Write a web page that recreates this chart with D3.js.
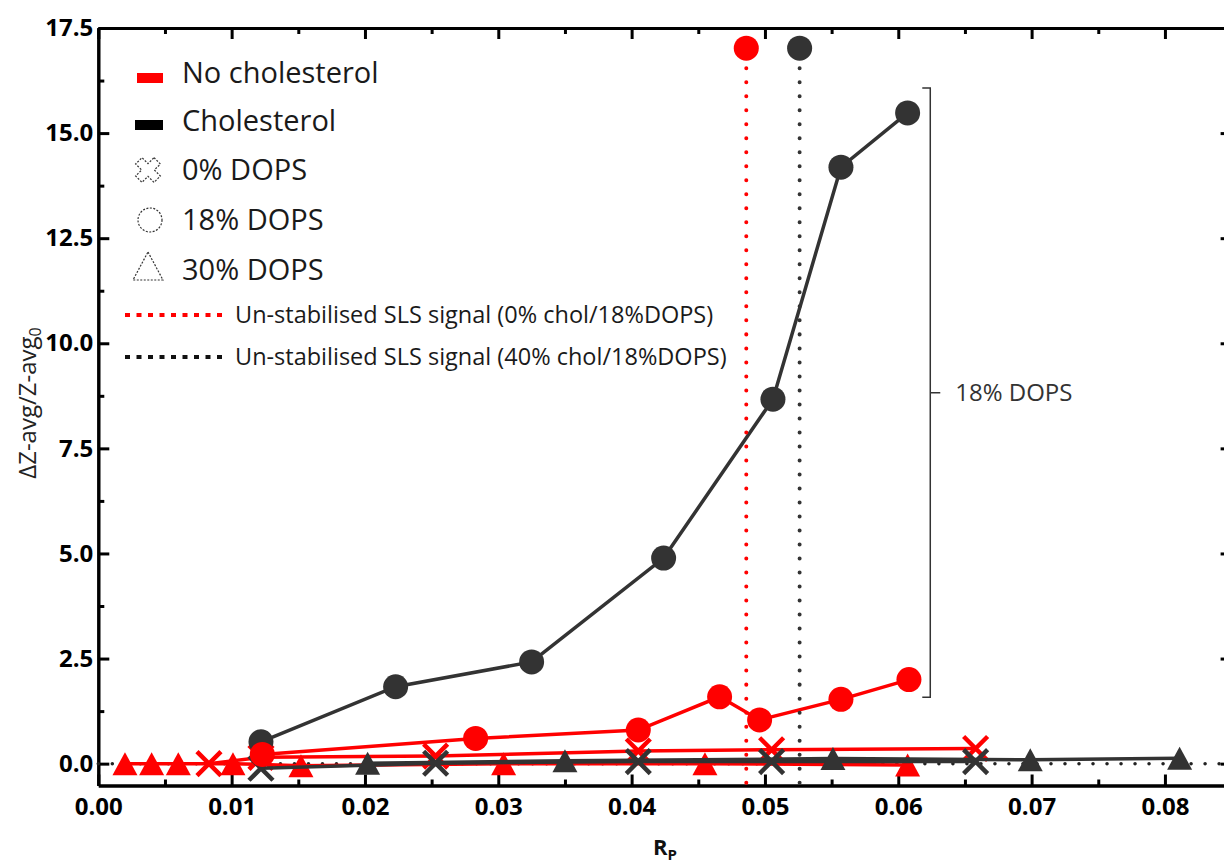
<!DOCTYPE html>
<html>
<head>
<meta charset="utf-8">
<script src="https://cdn.jsdelivr.net/npm/d3@7"></script>
<style>
  body { margin: 0; background: #fff; }
  svg text { font-family: "Open Sans", sans-serif; }
</style>
</head>
<body>
<svg id="chart"></svg>
<script>
//======= data =======//
let cholCircleX = [0.0122, 0.0223, 0.0325, 0.0424, 0.0506, 0.0557, 0.0607];
let cholCircleY = [0.52, 1.83, 2.42, 4.89, 8.67, 14.19, 15.48];

let noCholCircleX = [0.0123, 0.0283, 0.0405, 0.0466, 0.0496, 0.0557, 0.0608];
let noCholCircleY = [0.22, 0.60, 0.80, 1.59, 1.04, 1.53, 2.00];

let cholCrossX = [0.0122, 0.0253, 0.0405, 0.0505, 0.0658];
let cholCrossY = [-0.11, 0.01, 0.05, 0.05, 0.05];

let noCholCrossX = [0.0083, 0.0122, 0.0253, 0.0405, 0.0505, 0.0658];
let noCholCrossY = [0.00, 0.15, 0.18, 0.30, 0.33, 0.36];

let cholTriX = [0.0202, 0.0350, 0.0551, 0.0699, 0.0811];
let cholTriY = [0.01, 0.07, 0.12, 0.09, 0.13];

let noCholTriX = [0.0020, 0.0040, 0.0060, 0.0101, 0.0152, 0.0304, 0.0455, 0.0607];
let noCholTriY = [0.00, 0.00, 0.00, 0.00, -0.05, 0.00, 0.00, -0.03];

// un-stabilised SLS signal markers (red = 0% chol, black = 40% chol)
let unstableX = [0.0486, 0.0526];
let unstableY = [17.02, 17.02];

let xTicks = [0, 0.01, 0.02, 0.03, 0.04, 0.05, 0.06, 0.07, 0.08];
let xMinorTicks = [0.005, 0.015, 0.025, 0.035, 0.045, 0.055, 0.065, 0.075];
let yTicks = [0, 2.5, 5, 7.5, 10, 12.5, 15, 17.5];
let yMinorTicks = [1.25, 3.75, 6.25, 8.75, 11.25, 13.75, 16.25];

let bracketX = 0.0624;
let bracketY = [1.58, 16.07];

let zip = (xs, ys) => xs.map((v, i) => ({ x: v, y: ys[i] }));

//======= setup =======//
let width = 1224;
let height = 863;
let red = '#ff0000';
let dark = '#333333';

let svg = d3.select('#chart')
  .attr('width', width)
  .attr('height', height);

let x = d3.scaleLinear().domain([0, 0.085]).range([98.3, 1231.6]);
let y = d3.scaleLinear().domain([-0.52, 17.5]).range([785.5, 28]);

//======= axes =======//
function styleAxis(g) {
  g.select('.domain').attr('stroke', '#000').attr('stroke-width', 3);
  g.selectAll('.tick line').attr('stroke', '#000').attr('stroke-width', 3);
  g.selectAll('.tick text')
    .attr('fill', '#000')
    .style('font-size', '24px')
    .style('font-weight', 'bold')
    .style('font-family', '"Open Sans", sans-serif');
}

let yBottom = y.range()[0];
let yTop = y.range()[1];
let xLeft = x.range()[0];
let xRight = x.range()[1];

svg.append('g').attr('transform', 'translate(0,' + yBottom + ')')
  .call(d3.axisBottom(x).tickValues(xMinorTicks).tickFormat('').tickSizeInner(-6).tickSizeOuter(0)).call(styleAxis);
svg.append('g').attr('transform', 'translate(0,' + yBottom + ')')
  .call(d3.axisBottom(x).tickValues(xTicks).tickFormat(d3.format('.2f')).tickSizeInner(-11).tickSizeOuter(0).tickPadding(12)).call(styleAxis);

svg.append('g').attr('transform', 'translate(0,' + yTop + ')')
  .call(d3.axisTop(x).tickValues(xMinorTicks).tickFormat('').tickSizeInner(-6).tickSizeOuter(0)).call(styleAxis);
svg.append('g').attr('transform', 'translate(0,' + yTop + ')')
  .call(d3.axisTop(x).tickValues(xTicks).tickFormat('').tickSizeInner(-11).tickSizeOuter(0)).call(styleAxis);

svg.append('g').attr('transform', 'translate(' + xLeft + ',0)')
  .call(d3.axisLeft(y).tickValues(yMinorTicks).tickFormat('').tickSizeInner(-6).tickSizeOuter(0)).call(styleAxis);
svg.append('g').attr('transform', 'translate(' + xLeft + ',0)')
  .call(d3.axisLeft(y).tickValues(yTicks).tickFormat(d3.format('.1f')).tickSizeInner(-11).tickSizeOuter(0).tickPadding(5)).call(styleAxis);

svg.append('g').attr('transform', 'translate(' + xRight + ',0)')
  .call(d3.axisRight(y).tickValues(yMinorTicks).tickFormat('').tickSizeInner(-6).tickSizeOuter(0)).call(styleAxis);
svg.append('g').attr('transform', 'translate(' + xRight + ',0)')
  .call(d3.axisRight(y).tickValues(yTicks).tickFormat('').tickSizeInner(-11).tickSizeOuter(0)).call(styleAxis);

// axis titles
let xTitle = svg.append('text')
  .attr('x', (xLeft + xRight) / 2)
  .attr('y', 855)
  .attr('text-anchor', 'middle')
  .style('font-weight', 'bold')
  .style('font-size', '22px')
  .attr('fill', '#111');
xTitle.append('tspan').text('R');
xTitle.append('tspan').attr('dy', 5).style('font-size', '15px').text('P');

let yTitle = svg.append('text')
  .attr('transform', 'translate(36,' + 403 + ') rotate(-90)')
  .attr('text-anchor', 'middle')
  .attr('fill', '#222')
  .style('font-size', '24px');
yTitle.append('tspan').text('\u0394Z-avg/Z-avg');
yTitle.append('tspan').attr('dy', 5).style('font-size', '16px').text('0');

//======= marks =======//
let line = d3.line().x(d => x(d.x)).y(d => y(d.y));
let crossPath = 'M-12,-12L12,12M-12,12L12,-12';
let triPath = 'M0,-11.5L12.5,11.5L-12.5,11.5Z';

// dotted zero line
svg.append('line')
  .attr('x1', x(0)).attr('x2', xRight)
  .attr('y1', y(0)).attr('y2', y(0))
  .attr('stroke', '#222')
  .attr('stroke-width', 3.5)
  .attr('stroke-linecap', 'round')
  .attr('stroke-dasharray', '0.01 14');

function drawSeries(data, color, kind) {
  let g = svg.append('g');
  g.append('path')
    .datum(data)
    .attr('fill', 'none')
    .attr('stroke', color)
    .attr('stroke-width', 3.5)
    .attr('d', line);
  if (kind === 'circle') {
    g.selectAll('circle').data(data).enter().append('circle')
      .attr('cx', d => x(d.x)).attr('cy', d => y(d.y))
      .attr('r', 12.5)
      .attr('fill', color);
  } else if (kind === 'cross') {
    g.selectAll('.mk').data(data).enter().append('path')
      .attr('transform', d => 'translate(' + x(d.x) + ',' + y(d.y) + ')')
      .attr('d', crossPath)
      .attr('stroke', color)
      .attr('stroke-width', 4.5)
      .attr('fill', 'none');
  } else {
    g.selectAll('.mk').data(data).enter().append('path')
      .attr('transform', d => 'translate(' + x(d.x) + ',' + y(d.y) + ')')
      .attr('d', triPath)
      .attr('fill', color);
  }
}

drawSeries(zip(noCholTriX, noCholTriY), red, 'tri');
drawSeries(zip(noCholCrossX, noCholCrossY), red, 'cross');
drawSeries(zip(cholCrossX, cholCrossY), dark, 'cross');
drawSeries(zip(cholTriX, cholTriY), dark, 'tri');
drawSeries(zip(cholCircleX, cholCircleY), dark, 'circle');
drawSeries(zip(noCholCircleX, noCholCircleY), red, 'circle');

// un-stabilised SLS signal lines
let unstable = zip(unstableX, unstableY);
let unstableColor = [red, dark];
svg.append('g').selectAll('line').data(unstable).enter().append('line')
  .attr('x1', d => x(d.x)).attr('x2', d => x(d.x))
  .attr('y1', d => y(d.y) + 20).attr('y2', yBottom)
  .attr('stroke', (d, i) => unstableColor[i])
  .attr('stroke-width', 4)
  .attr('stroke-linecap', 'round')
  .attr('stroke-dasharray', '0.01 14');
svg.append('g').selectAll('circle').data(unstable).enter().append('circle')
  .attr('cx', d => x(d.x)).attr('cy', d => y(d.y))
  .attr('r', 12.5)
  .attr('fill', (d, i) => unstableColor[i]);

//======= bracket annotation =======//
let bx = x(bracketX);
let by0 = y(bracketY[0]);
let by1 = y(bracketY[1]);
svg.append('path')
  .attr('d', 'M' + (bx - 8) + ',' + by1 + 'H' + bx + 'V' + by0 + 'H' + (bx - 8)
    + 'M' + bx + ',' + ((by0 + by1) / 2) + 'H' + (bx + 10))
  .attr('fill', 'none')
  .attr('stroke', '#333')
  .attr('stroke-width', 1.5);
svg.append('text')
  .attr('x', bx + 25)
  .attr('y', (by0 + by1) / 2 + 8)
  .attr('fill', '#333')
  .style('font-size', '24px')
  .text('18% DOPS');

//======= legend =======//
let legendText = ['No cholesterol', 'Cholesterol', '0% DOPS', '18% DOPS', '30% DOPS'];
let legendBase = [83, 131, 180, 230, 280];
let legend = svg.append('g');

legend.selectAll('text').data(legendText).enter().append('text')
  .attr('x', 182)
  .attr('y', (d, i) => legendBase[i])
  .attr('fill', '#1a1a1a')
  .style('font-size', '29px')
  .text(d => d);

legend.append('rect').attr('x', 137).attr('y', 73).attr('width', 26).attr('height', 10).attr('fill', red);
legend.append('rect').attr('x', 135).attr('y', 120).attr('width', 28).attr('height', 10).attr('fill', '#000');

let w = 4.5, L = 13;
let plusOutline = 'M' + (-w) + ',' + (-L) + 'H' + w + 'V' + (-w) + 'H' + L + 'V' + w + 'H' + w + 'V' + L
  + 'H' + (-w) + 'V' + w + 'H' + (-L) + 'V' + (-w) + 'H' + (-w) + 'Z';
legend.append('path')
  .attr('transform', 'translate(148,170) rotate(45)')
  .attr('d', plusOutline)
  .attr('fill', 'none').attr('stroke', '#333').attr('stroke-width', 1.2).attr('stroke-dasharray', '2 1.5');
legend.append('circle')
  .attr('cx', 150).attr('cy', 220).attr('r', 12)
  .attr('fill', 'none').attr('stroke', '#333').attr('stroke-width', 1.2).attr('stroke-dasharray', '2 1.5');
legend.append('path')
  .attr('d', 'M148,252L163,280H133Z')
  .attr('fill', 'none').attr('stroke', '#333').attr('stroke-width', 1.2).attr('stroke-dasharray', '2 1.5');

let sigText = ['Un-stabilised SLS signal (0% chol/18%DOPS)', 'Un-stabilised SLS signal (40% chol/18%DOPS)'];
let sigY = [315, 357];
let sigColor = [red, '#111'];
legend.selectAll('.sig').data(sigText).enter().append('line')
  .attr('x1', 125).attr('x2', 228)
  .attr('y1', (d, i) => sigY[i]).attr('y2', (d, i) => sigY[i])
  .attr('stroke', (d, i) => sigColor[i])
  .attr('stroke-width', 4)
  .attr('stroke-dasharray', '5 6.5');
legend.selectAll('.sigt').data(sigText).enter().append('text')
  .attr('x', 235)
  .attr('y', (d, i) => sigY[i] + 8)
  .attr('fill', '#1a1a1a')
  .style('font-size', '23.5px')
  .text(d => d);
</script>
</body>
</html>
